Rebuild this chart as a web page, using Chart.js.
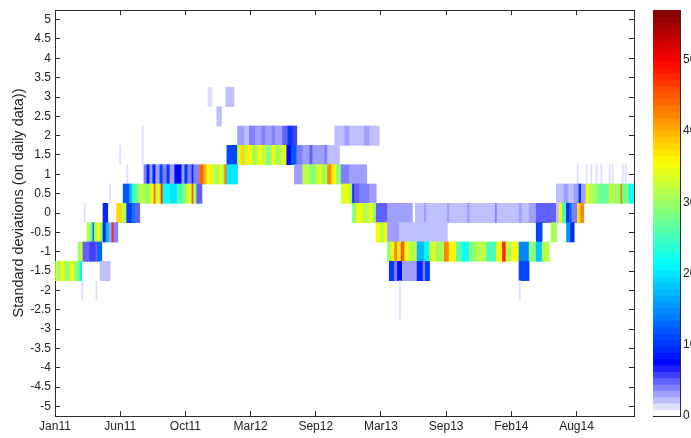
<!DOCTYPE html>
<html>
<head>
<meta charset="utf-8">
<script src="https://cdn.jsdelivr.net/npm/chart.js@4.4.0/dist/chart.umd.min.js"></script>
<style>
  html, body { margin: 0; padding: 0; background: #fff; width: 691px; height: 438px; overflow: hidden; }
  #main { position: absolute; left: 0; top: 0; }
  #cbar { position: absolute; left: 640px; top: 0; }
</style>
</head>
<body>
<canvas id="main" width="645" height="438"></canvas>
<canvas id="cbar" width="51" height="438"></canvas>
<script>
// Trading-day axis and its date labels
const dayMax = 977;
const tickDays = [0, 110, 220, 330, 440, 550, 660, 770, 880];
const tickLabels = ['Jan11', 'Jun11', 'Oct11', 'Mar12', 'Sep12', 'Mar13', 'Sep13', 'Feb14', 'Aug14'];
const sdTicks = [-5, -4.5, -4, -3.5, -3, -2.5, -2, -1.5, -1, -0.5, 0, 0.5, 1, 1.5, 2, 2.5, 3, 3.5, 4, 4.5, 5];
const countTicks = [0, 10, 20, 30, 40, 50];
const countMax = 57;

// Runs of days per standard-deviation level: [firstDay, lastDay, count]
const sd_p3_0 = [[258,265,1],[288,302,2]];
const sd_p2_5 = [[273,281,2]];
const sd_p2_0 = [[147,149,1],[308,320,3],[320,328,2],[328,338,4],[338,349,3],[349,355,4],[355,366,3],[366,372,4],
  [372,384,3],[384,393,5],[393,401,10],[401,408,6],[472,489,2],[489,497,3],[497,522,2],[522,531,3],[531,547,2]];
const sd_p1_5 = [[109,111,1],[147,149,1],[290,308,11],[308,314,33],[314,320,38],[320,325,32],[325,334,36],[334,342,30],
  [342,350,35],[350,357,32],[357,366,29],[366,374,34],[374,382,30],[382,391,34],[391,399,8],[399,408,12],
  [408,418,4],[418,430,3],[430,435,5],[435,455,3],[455,460,4],[460,480,2]];
const sd_p1_0 = [[121,123,1],[150,155,4],[155,160,9],[160,165,3],[165,170,9],[170,177,3],[177,182,11],[182,189,4],
  [189,194,10],[194,202,3],[202,214,8],[214,219,3],[219,224,10],[224,231,4],[231,234,9],[234,244,4],
  [244,251,44],[251,256,40],[256,266,36],[266,278,32],[278,283,35],[283,286,30],[286,290,42],[290,308,20],
  [404,418,3],[418,430,32],[430,441,29],[441,451,33],[451,460,31],[460,467,42],[467,475,36],[475,483,29],
  [483,497,4],[497,526,3],[881,883,1],[896,898,1],[904,906,1],[913,915,1],[921,923,1],[935,937,1],
  [940,942,1],[957,959,1],[962,964,1]];
const sd_p0_5 = [[92,94,1],[115,126,12],[126,131,18],[131,138,25],[138,143,29],[143,152,32],[152,160,30],[160,167,34],
  [167,170,44],[170,177,33],[177,179,38],[179,182,47],[182,194,22],[194,206,20],[206,214,25],[214,222,28],
  [222,231,33],[231,234,45],[234,239,31],[239,248,5],[483,492,33],[492,497,36],[497,502,31],[502,505,10],
  [505,514,5],[514,531,4],[531,542,3],[846,859,2],[859,867,3],[867,876,2],[876,884,3],[884,888,10],
  [888,896,3],[896,901,36],[901,915,31],[915,935,27],[935,945,32],[945,955,30],[955,957,45],[957,969,28],
  [969,977,22]];
const sd_0 = [[49,51,1],[81,89,9],[104,113,38],[113,121,32],[121,130,10],[130,135,14],[135,143,5],[502,509,29],
  [509,519,35],[519,531,32],[531,537,35],[537,542,30],[542,561,5],[561,603,3],[608,623,2],[623,627,3],
  [627,662,2],[662,666,3],[666,696,2],[696,700,3],[700,743,2],[743,746,4],[746,783,2],[783,788,3],
  [788,800,2],[800,812,3],[812,846,5],[846,851,2],[851,856,36],[856,863,25],[863,868,9],[868,872,13],
  [872,881,4],[882,887,38],[887,892,42]];
const sd_m0_5 = [[54,61,31],[61,64,27],[64,66,10],[66,71,30],[71,77,35],[77,81,29],[81,86,9],[86,91,17],
  [91,96,3],[96,99,48],[99,106,4],[542,549,36],[549,556,32],[556,561,35],[561,581,3],[581,662,2],
  [812,822,11],[837,847,31],[863,870,16],[870,876,9]];
const sd_m1_0 = [[39,44,30],[44,47,34],[47,59,5],[59,69,6],[69,72,5],[72,79,13],[561,568,30],[568,573,36],
  [573,578,42],[578,584,36],[584,590,45],[590,598,34],[598,611,32],[611,623,17],[623,632,21],[632,643,33],
  [643,657,31],[657,665,42],[665,677,36],[677,687,26],[687,699,22],[699,711,29],[711,728,32],[728,745,25],
  [745,755,36],[755,761,48],[761,772,32],[772,783,35],[783,800,15],[800,812,29],[812,822,18],[822,834,32]];
const sd_m1_5 = [[0,5,33],[5,10,30],[10,15,35],[15,20,32],[20,25,29],[25,32,34],[32,37,31],[37,42,28],[42,45,21],
  [76,93,2],[564,573,10],[573,578,4],[578,586,8],[586,611,3],[611,621,9],[621,625,4],[625,632,10],[783,800,11]];
const sd_m2_0 = [[45,47,1],[69,71,1],[581,583,1],[783,785,1]];
const sd_m2_5 = [[581,583,1]];

const levelRuns = [
  [3, sd_p3_0], [2.5, sd_p2_5], [2, sd_p2_0], [1.5, sd_p1_5], [1, sd_p1_0], [0.5, sd_p0_5],
  [0, sd_0], [-0.5, sd_m0_5], [-1, sd_m1_0], [-1.5, sd_m1_5], [-2, sd_m2_0], [-2.5, sd_m2_5]
];

// 64-step colour map: white fading to blue, then the usual jet ramp
const STEPS = 64;
function stepColour(i) {
  if (i < 8) {
    const c = Math.round(255 * (1 - i / 8));
    return `rgb(${c},${c},255)`;
  }
  const x = (i + 0.5) / STEPS;
  const ch = k => Math.round(255 * Math.max(0, Math.min(1, 1.5 - Math.abs(4 * x - k))));
  return `rgb(${ch(3)},${ch(2)},${ch(1)})`;
}
const countColour = c => stepColour(Math.min(STEPS - 1, Math.floor(c / countMax * STEPS)));

const cells = [];
levelRuns.forEach(([level, runs]) => runs.forEach(([a, b, c]) => cells.push({ x: [a, b], y: level, c })));

Chart.defaults.font.family = "'Liberation Sans', Arial, Helvetica, sans-serif";
Chart.defaults.font.size = 12;
Chart.defaults.color = '#222';

const axisColour = '#2b2b2b';
const inward = { drawOnChartArea: false, drawTicks: true, tickLength: -5, color: axisColour, lineWidth: 1, offset: false };
const frame = { display: true, color: axisColour, width: 1 };
const setTicks = list => scale => { scale.ticks = list.map(v => ({ value: v })); };
// fixed axis thickness; labels sit inside the frame margins so no extra edge padding is needed
const fitWidth = w => s => { s.width = w; s.paddingTop = 0; s.paddingBottom = 0; };
const fitHeight = h => s => { s.height = h; s.paddingLeft = 0; s.paddingRight = 0; };

new Chart(document.getElementById('main'), {
  type: 'bar',
  data: {
    datasets: [{
      data: cells,
      xAxisID: 'x',
      yAxisID: 'y',
      backgroundColor: cells.map(d => countColour(d.c)),
      borderWidth: 0,
      grouped: false,
      categoryPercentage: 1,
      barPercentage: 1
    }]
  },
  options: {
    indexAxis: 'y',
    responsive: false,
    animation: false,
    events: [],
    layout: { padding: { left: 0, right: 11, top: 10, bottom: 0 } },
    plugins: { legend: { display: false }, tooltip: { enabled: false } },
    scales: {
      x: {
        type: 'linear', position: 'bottom', min: 0, max: dayMax, bounds: 'data', offset: false, z: 1,
        afterBuildTicks: setTicks(tickDays),
        afterFit: fitHeight(22),
        ticks: { autoSkip: false, maxRotation: 0, padding: 8,
          callback: v => { const k = tickDays.indexOf(v); return k < 0 ? '' : tickLabels[k]; } },
        grid: inward, border: frame
      },
      x2: {
        type: 'linear', position: 'top', min: 0, max: dayMax, bounds: 'data', offset: false, z: 1,
        afterBuildTicks: setTicks(tickDays),
        afterFit: fitHeight(0),
        ticks: { display: false },
        grid: inward, border: frame
      },
      y: {
        type: 'linear', position: 'left', min: -5.25, max: 5.25, bounds: 'data', offset: false, z: 1,
        afterBuildTicks: setTicks(sdTicks),
        afterFit: fitWidth(55),
        ticks: { autoSkip: false, padding: 9, callback: v => String(v) },
        grid: inward, border: frame,
        // leading spaces lift the label slightly above the axis centre
        title: { display: true, text: '     Standard deviations (on daily data))', font: { size: 14.5 },
          color: '#222', padding: { top: 10, bottom: 0 } }
      },
      y2: {
        type: 'linear', position: 'right', min: -5.25, max: 5.25, bounds: 'data', offset: false, z: 1,
        afterBuildTicks: setTicks(sdTicks),
        afterFit: fitWidth(0),
        ticks: { display: false },
        grid: inward, border: frame
      }
    }
  }
});

// Colour bar: one stacked slice per colour step
const slices = Array.from({ length: STEPS }, (_, i) => ({ x: 'c', y: [i * countMax / STEPS, (i + 1) * countMax / STEPS] }));
new Chart(document.getElementById('cbar'), {
  type: 'bar',
  data: {
    labels: ['c'],
    datasets: [{
      data: slices,
      backgroundColor: slices.map((_, i) => stepColour(i)),
      borderWidth: 0,
      categoryPercentage: 1,
      barPercentage: 1
    }]
  },
  options: {
    responsive: false,
    animation: false,
    events: [],
    layout: { padding: { left: 13, right: 0, top: 10, bottom: 0 } },
    plugins: { legend: { display: false }, tooltip: { enabled: false } },
    scales: {
      x: {
        type: 'category', position: 'bottom', z: 1,
        afterFit: fitHeight(22),
        ticks: { display: false }, grid: { display: false }, border: frame
      },
      x2: {
        type: 'category', position: 'top', labels: ['c'], z: 1,
        afterFit: fitHeight(0),
        ticks: { display: false }, grid: { display: false }, border: frame
      },
      y: {
        type: 'linear', position: 'right', min: 0, max: countMax, bounds: 'data', z: 1,
        afterBuildTicks: setTicks(countTicks),
        afterFit: fitWidth(11),
        ticks: { padding: 8, callback: v => String(v) },
        grid: inward, border: frame
      },
      y2: {
        type: 'linear', position: 'left', min: 0, max: countMax, bounds: 'data', z: 1,
        afterFit: fitWidth(0),
        ticks: { display: false }, grid: { display: false }, border: frame
      }
    }
  }
});
</script>
</body>
</html>
